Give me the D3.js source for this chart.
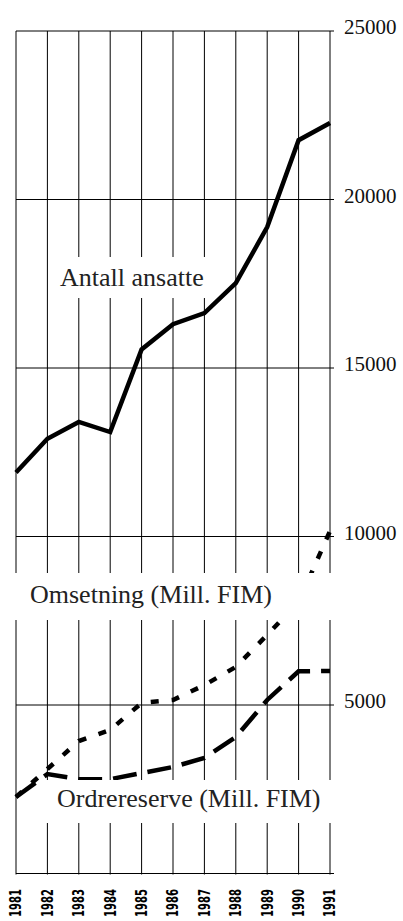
<!DOCTYPE html>
<html>
<head>
<meta charset="utf-8">
<script src="https://cdn.jsdelivr.net/npm/d3@7"></script>
<style>
  html, body { margin: 0; padding: 0; background: #fff; }
  svg { display: block; }
</style>
</head>
<body>
<script>
// ---- data ----
const years = [1981, 1982, 1983, 1984, 1985, 1986, 1987, 1988, 1989, 1990, 1991];
const ansatte = [11900, 12900, 13400, 13100, 15550, 16300, 16630, 17520, 19180, 21760, 22270];
const omsetning = [2270, 3100, 3930, 4260, 5060, 5150, 5590, 6130, 7080, 8060, 10160];
const ordrereserve = [2270, 2950, 2800, 2800, 2980, 3160, 3430, 4050, 5150, 6000, 6010];
const yTicks = [0, 5000, 10000, 15000, 20000, 25000];
const yTickLabels = ["", "5000", "10000", "15000", "20000", "25000"];
const seriesLabels = ["Antall ansatte", "Omsetning (Mill. FIM)", "Ordrereserve (Mill. FIM)"];

const W = 403, H = 921;
const svg = d3.select("body").append("svg").attr("width", W).attr("height", H);

const x = d3.scaleLinear().domain([1981, 1991]).range([16, 330]);
const y = d3.scaleLinear().domain([0, 25000]).range([873.5, 31]);

const grid = svg.append("g");
// vertical gridlines
grid.selectAll("line.v").data(years).enter().append("line")
  .attr("x1", d => x(d)).attr("x2", d => x(d))
  .attr("y1", y(25000)).attr("y2", y(0) + 1)
  .attr("stroke", "#000").attr("stroke-width", 1);
// horizontal gridlines (extend past right edge as ticks)
grid.selectAll("line.h").data(yTicks).enter().append("line")
  .attr("x1", x(1981)).attr("x2", x(1991) + 4)
  .attr("y1", d => y(d)).attr("y2", d => y(d))
  .attr("stroke", "#000").attr("stroke-width", 1);

// right axis labels
svg.append("g").selectAll("text").data(yTicks).enter().append("text")
  .attr("x", 344).attr("y", d => y(d) + 3)
  .attr("font-family", "'Liberation Serif', 'Times New Roman', serif")
  .attr("font-size", 21).attr("fill", "#111")
  .text((d, i) => yTickLabels[i]);

// x axis labels (rotated)
svg.append("g").selectAll("text").data(years).enter().append("text")
  .attr("transform", d => `translate(${x(d)},889) rotate(-90)`)
  .attr("text-anchor", "end").attr("dy", "0.36em")
  .attr("textLength", 28).attr("lengthAdjust", "spacingAndGlyphs")
  .attr("font-family", "'DejaVu Sans Condensed', 'DejaVu Sans', sans-serif")
  .attr("font-weight", "bold").attr("font-size", 15).attr("fill", "#000")
  .text(d => d);

const line = d3.line().x((d, i) => x(years[i])).y(d => y(d));

svg.append("path").datum(ordrereserve).attr("d", line)
  .attr("fill", "none").attr("stroke", "#000").attr("stroke-width", 4.5)
  .attr("stroke-dasharray", "24,11");
svg.append("path").datum(omsetning).attr("d", line)
  .attr("fill", "none").attr("stroke", "#000").attr("stroke-width", 4.5)
  .attr("stroke-dasharray", "8,13");
svg.append("path").datum(ansatte).attr("d", line)
  .attr("fill", "none").attr("stroke", "#000").attr("stroke-width", 4.5)
  .attr("stroke-linejoin", "miter");

// labels with white boxes
const boxes = [
  {x0: 54, x1: 214, y0: 257, y1: 298, tx: 60, ty: 286},
  {x0: 8, x1: 338, y0: 573, y1: 620, tx: 30, ty: 603},
  {x0: 42, x1: 338, y0: 780, y1: 823, tx: 57, ty: 807}
];
const lg = svg.append("g");
boxes.forEach((b, i) => {
  lg.append("rect").attr("x", b.x0).attr("y", b.y0)
    .attr("width", b.x1 - b.x0).attr("height", b.y1 - b.y0).attr("fill", "#fff");
  lg.append("text").attr("x", b.tx).attr("y", b.ty)
    .attr("font-family", "'Liberation Serif', 'Times New Roman', serif")
    .attr("font-size", 26).attr("fill", "#222")
    .text(seriesLabels[i]);
});
</script>
</body>
</html>
